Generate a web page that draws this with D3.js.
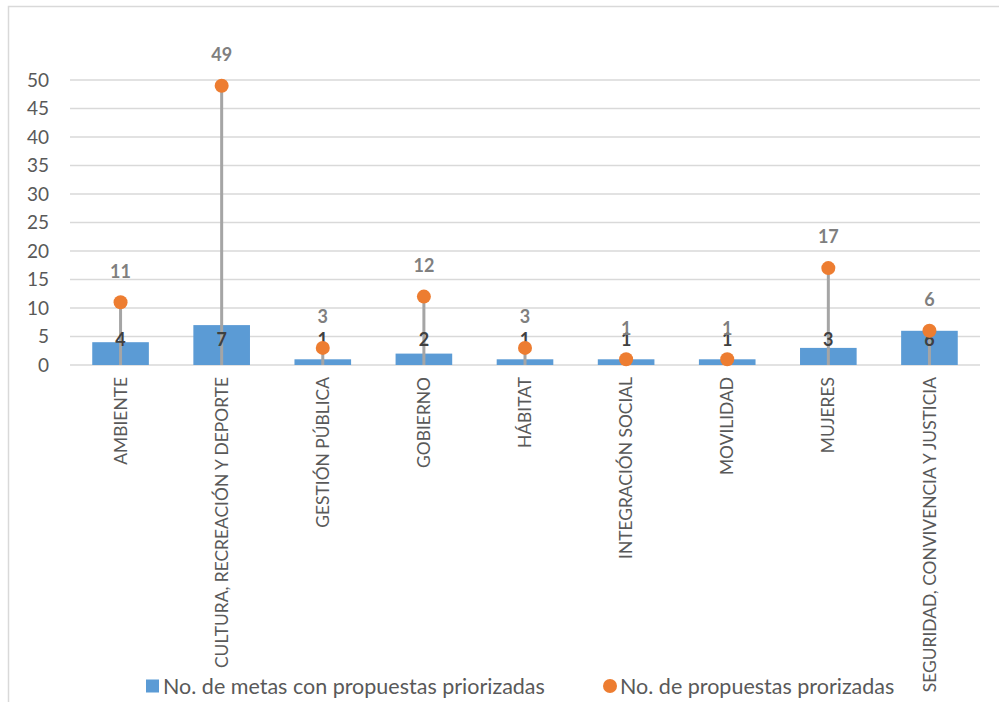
<!DOCTYPE html>
<html>
<head>
<meta charset="utf-8">
<script src="https://cdn.jsdelivr.net/npm/d3@7"></script>
<style>
  body { margin: 0; background: #fff; }
  svg { font-family: Lato, "Open Sans", sans-serif; }
</style>
</head>
<body>
<div id="container"></div>
<script>
const categories = [
  'AMBIENTE',
  'CULTURA, RECREACIÓN Y DEPORTE',
  'GESTIÓN PÚBLICA',
  'GOBIERNO',
  'HÁBITAT',
  'INTEGRACIÓN SOCIAL',
  'MOVILIDAD',
  'MUJERES',
  'SEGURIDAD, CONVIVENCIA Y JUSTICIA'
];
const metas = [4, 7, 1, 2, 1, 1, 1, 3, 6];
const propuestas = [11, 49, 3, 12, 3, 1, 1, 17, 6];
const yTicks = [0, 5, 10, 15, 20, 25, 30, 35, 40, 45, 50];
const seriesNames = ['No. de metas con propuestas priorizadas', 'No. de propuestas prorizadas'];

const width = 999;
const height = 702;
const margin = { top: 80, right: 19, bottom: 337, left: 70 };

const svg = d3.select('#container')
  .append('svg')
  .attr('width', width)
  .attr('height', height);

// chart frame
svg.append('path')
  .attr('d', `M8.5,${height} V6.5 H${width}`)
  .attr('fill', 'none')
  .attr('stroke', '#d9d9d9')
  .attr('stroke-width', 1.5);

const x = d3.scaleBand()
  .domain(categories)
  .range([margin.left, width - margin.right])
  .paddingInner(0.44)
  .paddingOuter(0.22);

const y = d3.scaleLinear()
  .domain([0, 50])
  .range([height - margin.bottom, margin.top]);

// grid
svg.append('g')
  .selectAll('line')
  .data(yTicks)
  .enter()
  .append('line')
  .attr('x1', margin.left)
  .attr('x2', width - margin.right)
  .attr('y1', d => y(d))
  .attr('y2', d => y(d))
  .attr('stroke', '#d9d9d9')
  .attr('stroke-width', 1.3);

// y axis labels
svg.append('g')
  .selectAll('text')
  .data(yTicks)
  .enter()
  .append('text')
  .attr('x', 49)
  .attr('y', d => y(d))
  .attr('dy', '0.35em')
  .attr('text-anchor', 'end')
  .attr('font-size', '19px')
  .attr('fill', '#595959')
  .text(d => d);

const cx = d => x(d) + x.bandwidth() / 2;

// bars
svg.append('g')
  .selectAll('rect')
  .data(categories)
  .enter()
  .append('rect')
  .attr('x', d => x(d))
  .attr('y', (d, i) => y(metas[i]))
  .attr('width', x.bandwidth())
  .attr('height', (d, i) => y(0) - y(metas[i]))
  .attr('fill', '#5b9bd5');

// drop lines
svg.append('g')
  .selectAll('line')
  .data(categories)
  .enter()
  .append('line')
  .attr('x1', cx)
  .attr('x2', cx)
  .attr('y1', (d, i) => y(propuestas[i]))
  .attr('y2', y(0))
  .attr('stroke', '#a5a5a5')
  .attr('stroke-width', 3);

// bar labels
svg.append('g')
  .selectAll('text')
  .data(categories)
  .enter()
  .append('text')
  .attr('x', cx)
  .attr('y', y(0) - 25)
  .attr('dy', '0.35em')
  .attr('text-anchor', 'middle')
  .attr('font-size', '18px')
  .attr('font-weight', 'bold')
  .attr('fill', '#404040')
  .text((d, i) => metas[i]);

// points
svg.append('g')
  .selectAll('circle')
  .data(categories)
  .enter()
  .append('circle')
  .attr('cx', cx)
  .attr('cy', (d, i) => y(propuestas[i]))
  .attr('r', 7)
  .attr('fill', '#ed7d31');

// point labels
svg.append('g')
  .selectAll('text')
  .data(categories)
  .enter()
  .append('text')
  .attr('x', cx)
  .attr('y', (d, i) => y(propuestas[i]) - 31)
  .attr('dy', '0.35em')
  .attr('text-anchor', 'middle')
  .attr('font-size', '18px')
  .attr('font-weight', 'bold')
  .attr('fill', '#7f7f7f')
  .text((d, i) => propuestas[i]);

// category labels
svg.append('g')
  .selectAll('text')
  .data(categories)
  .enter()
  .append('text')
  .attr('transform', d => `translate(${cx(d)},${y(0) + 12}) rotate(-90)`)
  .attr('dy', '0.35em')
  .attr('text-anchor', 'end')
  .attr('font-size', '17.4px')
  .attr('fill', '#595959')
  .text(d => d);

// legend
const legend = svg.append('g').attr('transform', 'translate(0,686)');
legend.append('rect')
  .attr('x', 146).attr('y', -6.5)
  .attr('width', 13).attr('height', 13)
  .attr('fill', '#5b9bd5');
legend.append('text')
  .attr('x', 163).attr('y', 0)
  .attr('dy', '0.35em')
  .attr('font-size', '21.5px')
  .attr('fill', '#595959')
  .text(seriesNames[0]);
legend.append('circle')
  .attr('cx', 610).attr('cy', 0)
  .attr('r', 7)
  .attr('fill', '#ed7d31');
legend.append('text')
  .attr('x', 620).attr('y', 0)
  .attr('dy', '0.35em')
  .attr('font-size', '21.5px')
  .attr('fill', '#595959')
  .text(seriesNames[1]);
</script>
</body>
</html>
